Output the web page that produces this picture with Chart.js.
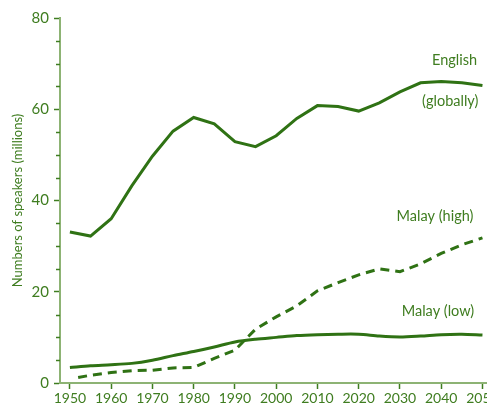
<!DOCTYPE html>
<html>
<head>
<meta charset="utf-8">
<script src="https://cdn.jsdelivr.net/npm/chart.js@4.4.1/dist/chart.umd.min.js"></script>
<style>
  html, body { margin: 0; padding: 0; background: #fff; }
  #wrap { width: 487px; height: 407px; position: relative; }
</style>
</head>
<body>
<div id="wrap"><canvas id="speakersChart"></canvas></div>
<script>
// years on the x axis (5-year steps)
const years = [1950, 1955, 1960, 1965, 1970, 1975, 1980, 1985, 1990, 1995, 2000,
               2005, 2010, 2015, 2020, 2025, 2030, 2035, 2040, 2045, 2050];
const english = [33.1, 32.2, 36.0, 43.2, 49.7, 55.2, 58.2, 56.8, 52.9, 51.8, 54.2,
                 58.0, 60.8, 60.6, 59.6, 61.4, 63.8, 65.8, 66.1, 65.8, 65.2];
const malayLow = [3.4, 3.8, 4.0, 4.3, 5.0, 6.0, 6.9, 7.9, 9.0, 9.6, 10.0,
                  10.4, 10.6, 10.7, 10.7, 10.3, 10.1, 10.3, 10.6, 10.7, 10.5];
const malayHighYears = [1952, 1955, 1960, 1965, 1970, 1975, 1980, 1985, 1990, 1995, 2000,
                        2005, 2010, 2015, 2020, 2025, 2030, 2035, 2040, 2045, 2050];
const malayHigh = [1.2, 1.7, 2.3, 2.7, 2.8, 3.3, 3.4, 5.4, 7.2, 11.8, 14.5,
                   16.9, 20.2, 22.0, 23.7, 25.0, 24.4, 26.1, 28.4, 30.3, 31.8];
const xTicks = [1950, 1960, 1970, 1980, 1990, 2000, 2010, 2020, 2030, 2040, 2050];
const seriesLabels = [
  { text: "English", x: 2048.7, y: 70.8 },
  { text: "(globally)", x: 2049, y: 61.8 },
  { text: "Malay (high)", x: 2047.8, y: 36.6 },
  { text: "Malay (low)", x: 2048, y: 15.8 }
];

const lineColor = "#2f7214";
const textColor = "#3f7d20";
const axisColor = "#8db374";
const FONT = "Lato, 'DejaVu Sans', sans-serif";

const pairs = (xs, ys) => xs.map((x, i) => ({ x: x, y: ys[i] }));

// text labels next to the lines + short minor ticks on the y axis
const extras = {
  id: "extras",
  afterDraw(chart) {
    const ctx = chart.ctx;
    const xs = chart.scales.x, ys = chart.scales.y;
    ctx.save();
    ctx.strokeStyle = textColor;
    ctx.lineWidth = 1.5;
    for (let v = 5; v <= 80; v += 5) {
      if (v % 20 === 0) continue;
      const py = Math.round(ys.getPixelForValue(v)) + 0.5;
      ctx.beginPath();
      ctx.moveTo(xs.left - 4, py);
      ctx.lineTo(xs.left, py);
      ctx.stroke();
    }
    ctx.fillStyle = textColor;
    ctx.font = "14.5px " + FONT;
    ctx.textAlign = "right";
    ctx.textBaseline = "middle";
    seriesLabels.forEach(l => {
      ctx.fillText(l.text, xs.getPixelForValue(l.x), ys.getPixelForValue(l.y));
    });
    ctx.restore();
  }
};

new Chart(document.getElementById("speakersChart"), {
  type: "line",
  data: {
    datasets: [
      {
        label: "English (globally)",
        data: pairs(years, english),
        borderColor: lineColor,
        borderWidth: 3,
        pointRadius: 0,
        tension: 0
      },
      {
        label: "Malay (high)",
        data: pairs(malayHighYears, malayHigh),
        borderColor: lineColor,
        borderWidth: 3,
        borderDash: [9, 6],
        pointRadius: 0,
        tension: 0
      },
      {
        label: "Malay (low)",
        data: pairs(years, malayLow),
        borderColor: lineColor,
        borderWidth: 3,
        pointRadius: 0,
        tension: 0.3
      }
    ]
  },
  options: {
    responsive: true,
    maintainAspectRatio: false,
    animation: false,
    layout: { padding: { top: 18, right: 0, left: 10, bottom: 0 } },
    plugins: {
      legend: { display: false },
      tooltip: { enabled: false }
    },
    scales: {
      x: {
        type: "linear",
        min: 1947.6,
        max: 2051.1,
        afterBuildTicks: s => { s.ticks = xTicks.map(v => ({ value: v })); },
        afterFit: s => { s.height = 24; s.paddingLeft = 0; s.paddingRight = 0; },
        border: { color: axisColor, width: 2 },
        grid: { display: true, drawOnChartArea: false, tickLength: 6, tickColor: textColor, tickWidth: 1.5 },
        ticks: {
          color: textColor,
          font: { family: FONT, size: 14 },
          padding: 1,
          maxRotation: 0,
          autoSkip: false,
          callback: v => String(v)
        }
      },
      y: {
        min: 0,
        max: 80,
        afterBuildTicks: s => { s.ticks = [0, 20, 40, 60, 80].map(v => ({ value: v })); },
        afterFit: s => { s.width = 50; },
        border: { color: axisColor, width: 2 },
        grid: { display: true, drawOnChartArea: false, tickLength: 6, tickColor: textColor, tickWidth: 1.5 },
        ticks: {
          color: textColor,
          font: { family: FONT, size: 15 },
          padding: 5
        },
        title: {
          display: true,
          text: "Numbers of speakers (millions)",
          color: textColor,
          font: { family: FONT, size: 13 },
          padding: { top: 0, bottom: 2 }
        }
      }
    }
  },
  plugins: [extras]
});
</script>
</body>
</html>
